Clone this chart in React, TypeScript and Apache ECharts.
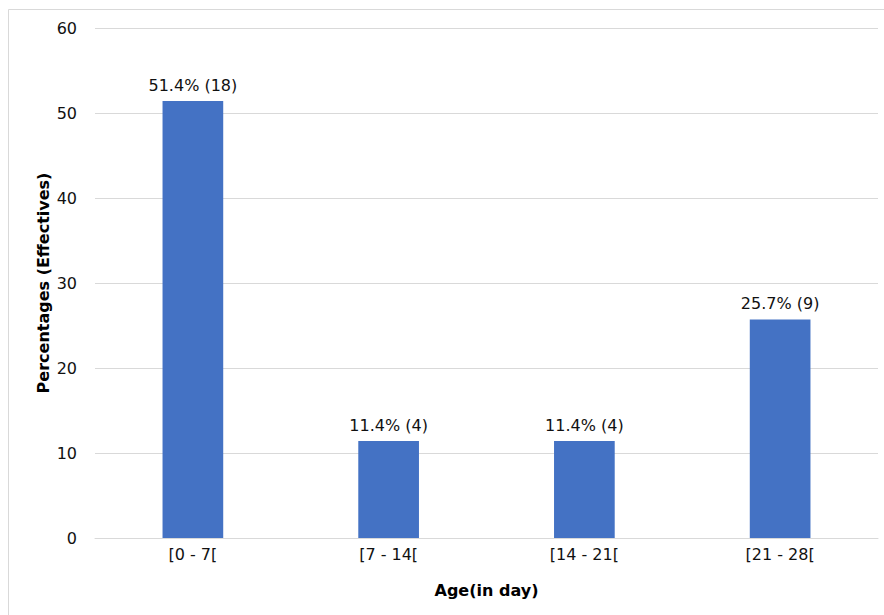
import React, { useEffect, useRef } from "react";
import * as echarts from "echarts";

const categories = ["[0 - 7[", "[7 - 14[", "[14 - 21[", "[21 - 28["];
const percentages = [51.4, 11.4, 11.4, 25.7];
const counts = [18, 4, 4, 9];
const yTicks = { min: 0, max: 60, interval: 10 };

const FONT = "DejaVu Sans";

export default function App() {
  const ref = useRef<HTMLDivElement>(null);

  useEffect(() => {
    if (!ref.current) return;
    const chart = echarts.init(ref.current, undefined, { renderer: "svg" });
    chart.setOption({
      animation: false,
      backgroundColor: "#ffffff",
      graphic: [
        {
          type: "rect",
          shape: { x: 8.5, y: 9.5, width: 900, height: 700 },
          style: { fill: "none", stroke: "#d9d9d9", lineWidth: 1 },
          silent: true,
        },
      ],
      grid: { left: 95, right: 6, top: 28, bottom: 77 },
      xAxis: {
        type: "category",
        data: categories,
        axisTick: { show: false },
        axisLine: { show: true, lineStyle: { color: "#d9d9d9" } },
        axisLabel: {
          color: "#111",
          fontFamily: FONT,
          fontSize: 16,
          margin: 8,
        },
        name: "Age(in day)",
        nameLocation: "middle",
        nameGap: 44,
        nameMoveOverlap: false,
        nameTextStyle: {
          color: "#000",
          fontFamily: FONT,
          fontSize: 16,
          fontWeight: "bold",
        },
      },
      yAxis: {
        type: "value",
        min: yTicks.min,
        max: yTicks.max,
        interval: yTicks.interval,
        axisLine: { show: false },
        axisTick: { show: false },
        splitLine: { lineStyle: { color: "#d9d9d9", width: 1 } },
        axisLabel: {
          color: "#111",
          fontFamily: FONT,
          fontSize: 16,
          margin: 18,
        },
        name: "Percentages (Effectives)",
        nameLocation: "middle",
        nameGap: 44,
        nameMoveOverlap: false,
        nameTextStyle: {
          color: "#000",
          fontFamily: FONT,
          fontSize: 16,
          fontWeight: "bold",
        },
      },
      series: [
        {
          type: "bar",
          data: percentages,
          barWidth: "31%",
          itemStyle: { color: "#4472C4" },
          label: {
            show: true,
            position: "top",
            distance: 8,
            color: "#111",
            fontFamily: FONT,
            fontSize: 16,
            formatter: (p: any) => `${p.value}% (${counts[p.dataIndex]})`,
          },
        },
      ],
    });
    return () => chart.dispose();
  }, []);

  return (
    <div
      ref={ref}
      style={{ position: "absolute", left: 0, top: 0, width: 884, height: 615 }}
    />
  );
}
